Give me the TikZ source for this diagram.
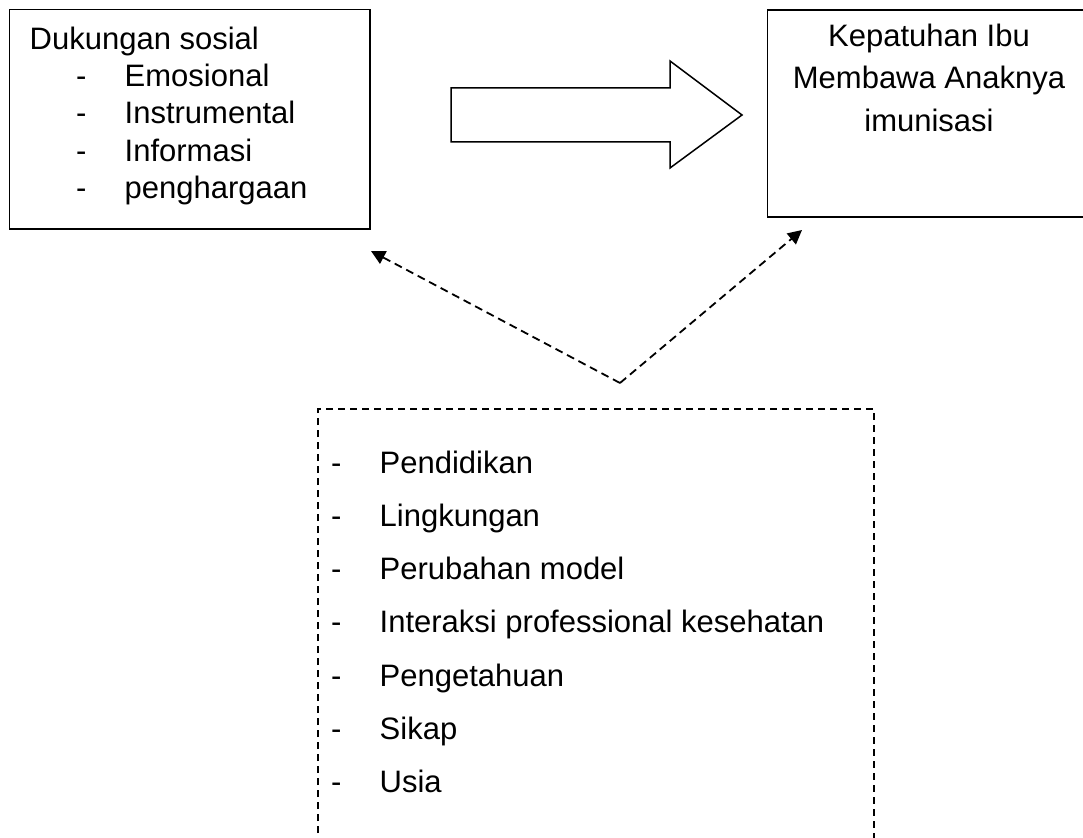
\documentclass[tikz,border=0pt]{standalone}
\usepackage{fontspec}
\setmainfont{Liberation Sans}
\usetikzlibrary{arrows.meta}
\begin{document}
\begin{tikzpicture}[x=1pt,y=-1pt,
  txt/.style={anchor=base west,inner sep=0pt,font=\fontsize{31}{36}\selectfont},
  ctxt/.style={anchor=base,inner sep=0pt,font=\fontsize{31}{36}\selectfont},
  boxline/.style={draw=black,line width=1.6pt},
  dashline/.style={line width=1.8pt,dash pattern=on 8pt off 5pt},
  dtip/.style={-{Triangle[length=14pt,width=14pt]}}
]
\useasboundingbox (0,0) rectangle (1083,837);
% left box
\draw[boxline] (9.5,9.5) rectangle (370,229);
\node[txt] (ds) at (29.5,50) {Dukungan sosial};
\foreach \t/\y [count=\i] in {Emosional/87,Instrumental/124,Informasi/161,penghargaan/198}{
  \node[txt] (ld\i) at (76,\y) {-};
  \node[txt] (lt\i) at (124.5,\y) {\t};
}
% right box (right edge lies beyond the picture)
\draw[boxline] (767.5,10) rectangle (1095,217);
\node[ctxt] (kp1) at (929,47) {Kepatuhan Ibu};
\node[ctxt] (kp2) at (929,89) {Membawa Anaknya};
\node[ctxt] (kp3) at (929,132) {imunisasi};
% block arrow
\draw[line width=1.5pt,line join=miter] (451,88) -- (670,88) -- (670,61) -- (742,115) -- (670,168) -- (670,142) -- (451,142) -- cycle;
% dashed connectors
\coordinate (m) at (620,383);
\coordinate (tl) at (371,251);
\coordinate (tr) at (802,230);
\draw[dashline,dtip] (m) -- (tl);
\draw[dashline,dtip] (m) -- (tr);
% dashed box (open bottom)
\draw[line width=1.3pt,dash pattern=on 7pt off 5pt] (318,845) -- (318,409) -- (874,409) -- (874,845);
\foreach \t/\y [count=\i] in {Pendidikan/473,Lingkungan/526.3,Perubahan model/579.6,Interaksi professional kesehatan/632.9,Pengetahuan/686.2,Sikap/739.5,Usia/792.8}{
  \node[txt] (fd\i) at (331,\y) {-};
  \node[txt] (ft\i) at (379.5,\y) {\t};
}
\end{tikzpicture}
\end{document}
